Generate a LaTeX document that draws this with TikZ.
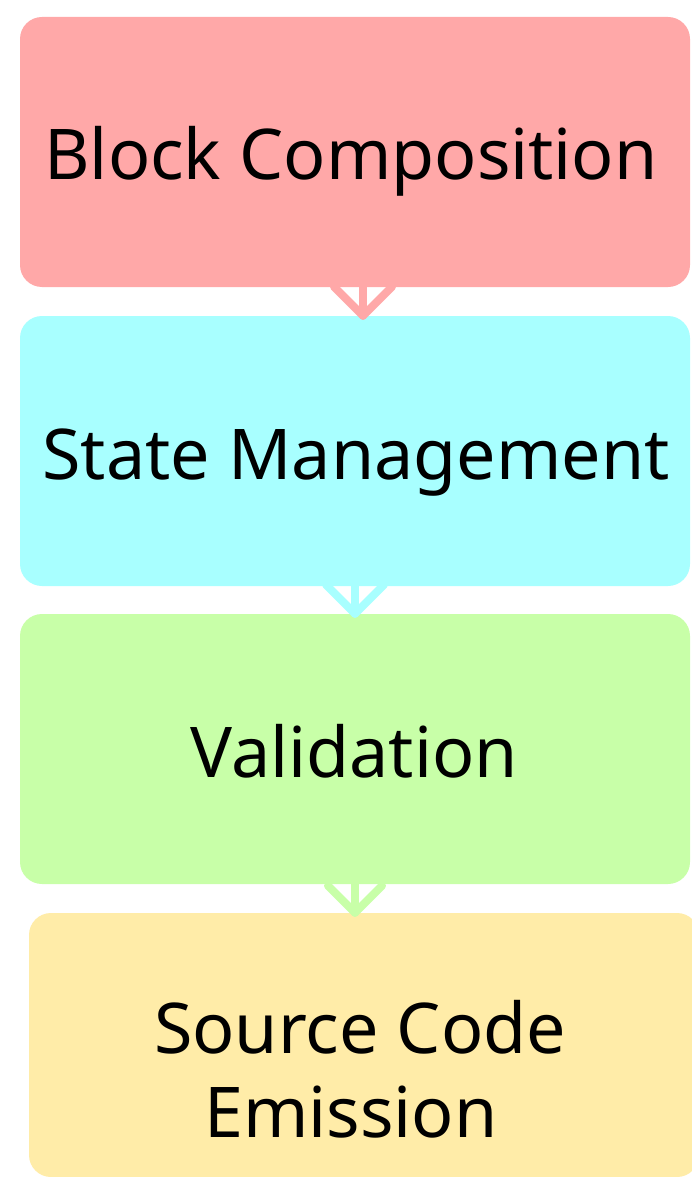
\documentclass[tikz,border=0pt]{standalone}
\usepackage{fontspec}
\setmainfont{Noto Sans}
\usetikzlibrary{calc}
\definecolor{cred}{HTML}{FFA8A8}
\definecolor{ccyan}{HTML}{A8FFFF}
\definecolor{cgreen}{HTML}{C8FFA8}
\definecolor{cyell}{HTML}{FFECA8}
\begin{document}
\begin{tikzpicture}[x=1pt,y=-1pt,
 box/.style={rectangle, rounded corners=22pt, minimum width=670pt, inner sep=0pt, draw=none},
 lbl/.style={font=\fontsize{70}{84}\selectfont, anchor=base, inner sep=0pt},
 conn/.style={line width=8pt, line cap=round, line join=round}]
\useasboundingbox[fill=white] (0,0) rectangle (692,1177);
\node[box, fill=cred, minimum height=270pt] (b1) at (355,152) {};
\node[box, fill=ccyan, minimum height=270pt] (b2) at (355,451) {};
\node[box, fill=cgreen, minimum height=270pt] (b3) at (355,749) {};
\node[box, fill=cyell, minimum height=264pt] (b4) at (364,1045) {};
\node[lbl] (t1) at (351,180) {Block Composition};
\node[lbl] (t2) at (356,479) {State Management};
\node[lbl] (t3) at (354,777) {Validation};
\node[lbl] (t4a) at (360,1053) {Source Code};
\node[lbl] (t4b) at (351,1137) {Emission};
% connectors
\coordinate (p1) at ([xshift=8pt]b2.north);
\draw[conn, cred] ([xshift=8pt]b1.south) -- (p1);
\draw[conn, cred] ($(p1)+(-29,-29)$) -- (p1) -- ++(29,-29);
\coordinate (p2) at (b3.north);
\draw[conn, ccyan] (b2.south) -- (p2);
\draw[conn, ccyan] ($(p2)+(-29,-29)$) -- (p2) -- ++(29,-29);
\coordinate (p3) at (b3.south |- b4.north);
\draw[conn, cgreen] (b3.south) -- (p3);
\draw[conn, cgreen] ($(p3)+(-27,-27)$) -- (p3) -- ++(27,-27);
\end{tikzpicture}
\end{document}
